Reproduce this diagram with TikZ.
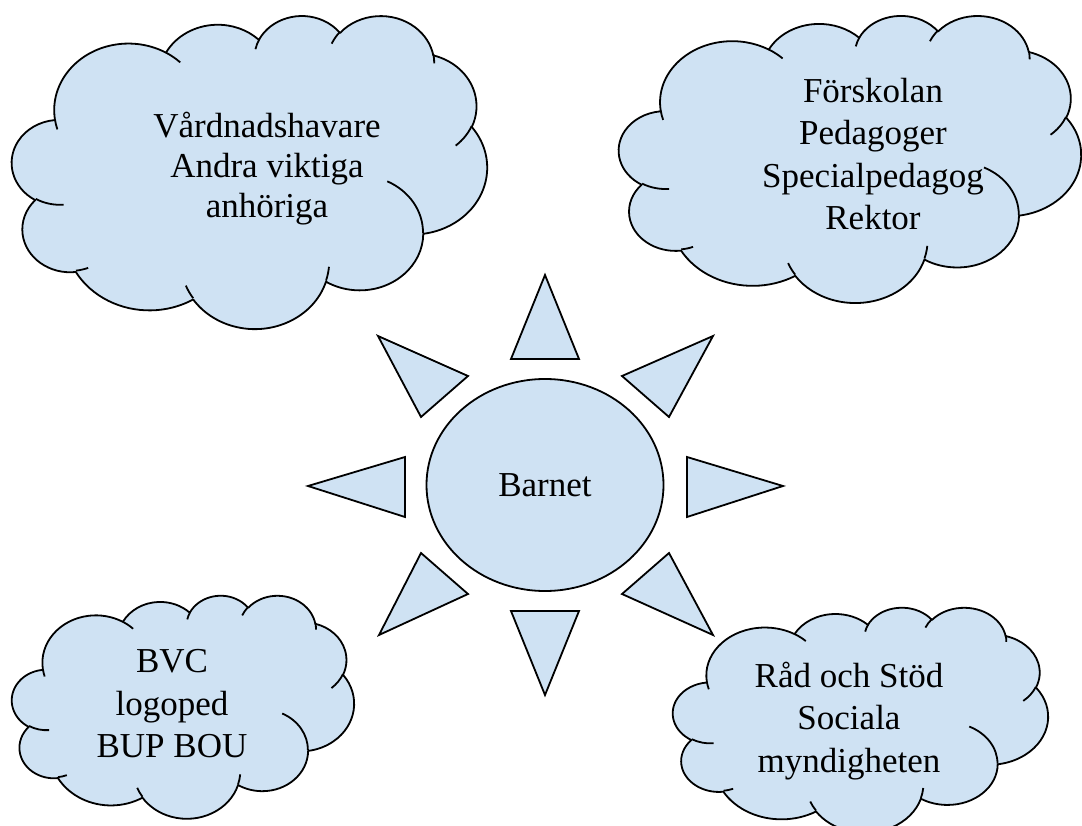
\documentclass[tikz,border=0pt]{standalone}
\usepackage{fontspec}
\setmainfont{Liberation Serif}
\usetikzlibrary{shapes.geometric}

\definecolor{skyfill}{HTML}{CFE2F3}

% one puff of a cloud: x radius, y radius, start angle, sweep
\newcommand{\puff}[4]{%
  \pgfextra{%
    \pgfmathparse{atan2(#1*sin(#3),#2*cos(#3))}\xdef\pa{\pgfmathresult}%
    \pgfmathparse{\pa+360*round(((#3)-(\pa))/360)}\xdef\pa{\pgfmathresult}%
    \pgfmathparse{atan2(#1*sin(#3+#4),#2*cos(#3+#4))}\xdef\pb{\pgfmathresult}%
    \pgfmathparse{\pb+360*round(((#3+#4)-(\pb))/360)}\xdef\pb{\pgfmathresult}%
  } arc[start angle=\pa, end angle=\pb, x radius=#1, y radius=#2]}

% cloud in the box: left, top, width, height
\newcommand{\cloudbox}[4]{%
  \begin{scope}[shift={(#1,#2)},xscale=#3/432,yscale=#4/432]
    \draw[cloudline,fill=skyfill] (39,143.7)
      \puff{67.53}{91.90}{-190.4875}{123.7805}
      \puff{53.33}{72.67}{-144.1024}{89.9452}
      \puff{43.65}{59.45}{-145.8079}{99.7230}
      \puff{48.57}{65.95}{-130.9861}{117.2417}
      \puff{53.33}{72.73}{-78.7089}{109.0269}
      \puff{67.75}{92.20}{-46.2673}{130.2690}
      \puff{57.85}{78.67}{0.6250}{114.0333}
      \puff{67.52}{92.15}{22.4516}{115.1726}
      \puff{77.20}{105.43}{66.2426}{75.7110}
      \puff{43.60}{59.18}{-274.9421}{146.7356}
      \puff{43.45}{59.45}{-246.8285}{152.5189} -- cycle;
    \draw[cloudline]
      (46.93,261.77) \puff{43.45}{59.45}{86.7420}{26.4295}
      (69.28,348.99) \puff{43.60}{59.18}{73.6105}{11.4475}
      (164.78,390.90) \puff{67.52}{92.15}{137.6242}{14.0811}
      (288.27,347.51) \puff{67.52}{92.15}{6.4533}{15.9984}
      (341.29,229.54) \puff{57.85}{78.67}{-70.2924}{70.9174}
      (417.98,153.54) \puff{53.33}{72.73}{30.3180}{27.7515}
      (383.24,54.26) \puff{48.57}{65.95}{-13.7443}{14.8589}
      (290.78,39.52) \puff{48.57}{65.95}{-149.1815}{18.1954}
      (221.41,47.20) \puff{43.65}{59.45}{-163.4943}{17.6864}
      (140.00,51.92) \puff{67.53}{91.90}{-66.7070}{12.3194}
      (41.27,157.89) \puff{67.53}{91.90}{157.6544}{11.8582};
  \end{scope}}

\begin{document}
\begin{tikzpicture}[x=1pt,y=-1pt,
    cloudline/.style={draw=black,line width=1.8pt,line join=round},
    sunray/.style={draw=black,fill=skyfill,line width=1.8pt,line join=miter},
    cloudtext/.style={align=center,inner sep=0pt,font=\rmfamily\fontsize{35}{42.5}\selectfont}]

  \useasboundingbox (0,0) rectangle (1082,826);

  % the four clouds
  \cloudbox{12}{15}{475}{313}
  \cloudbox{619}{15}{462}{287}
  \cloudbox{12}{595}{342}{223}
  \cloudbox{673}{607}{375}{225}

  \node (kin)       at (267,169) [cloudtext,font=\rmfamily\fontsize{35}{40}\selectfont] {Vårdnadshavare\\Andra viktiga\\anhöriga};
  \node (preschool) at (873,154) [cloudtext] {Förskolan\\Pedagoger\\Specialpedagog\\Rektor};
  \node (bvc)       at (172,704) [cloudtext] {BVC\\logoped\\BUP BOU};
  \node (support)   at (849,721) [cloudtext] {Råd och Stöd\\Sociala\\myndigheten};

  % the sun
  \node (barnet) at (545,485) [ellipse,draw=black,fill=skyfill,line width=1.8pt,
      minimum width=237pt,minimum height=212pt,inner sep=0pt,
      font=\rmfamily\fontsize{35}{42}\selectfont] {Barnet};

  \draw[sunray] (545,275) -- (511,359) -- (579,359) -- cycle;
  \draw[sunray] (545,695) -- (511,611) -- (579,611) -- cycle;
  \draw[sunray] (308,486) -- (405,457) -- (405,517) -- cycle;
  \draw[sunray] (783,486) -- (687,457) -- (687,517) -- cycle;
  \draw[sunray] (378,336) -- (468,376) -- (421,417) -- cycle;
  \draw[sunray] (713,336) -- (622,376) -- (669,417) -- cycle;
  \draw[sunray] (379,635) -- (421,553) -- (468,594) -- cycle;
  \draw[sunray] (713,635) -- (669,553) -- (622,594) -- cycle;

\end{tikzpicture}
\end{document}
